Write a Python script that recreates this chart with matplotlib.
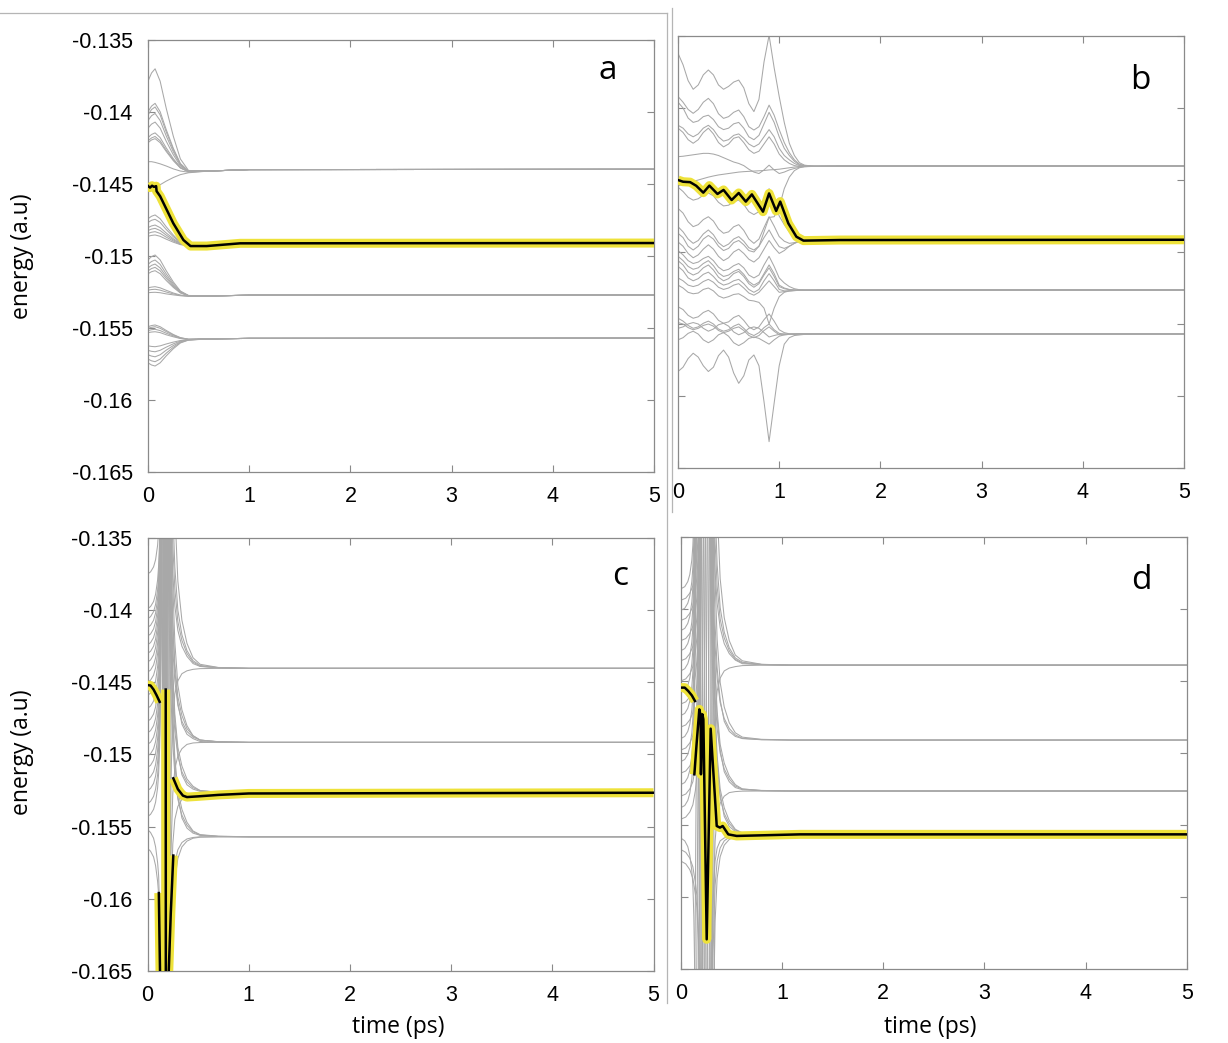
import matplotlib
matplotlib.use("Agg")
import matplotlib.pyplot as plt
from matplotlib.lines import Line2D

plt.rcParams["font.family"] = ["Liberation Sans", "DejaVu Sans"]

# energies are written in milli-hartree (1e-3 a.u.), time in ps

x_ticks = [0, 1, 2, 3, 4, 5]
y_ticks = [-0.165, -0.16, -0.155, -0.15, -0.145, -0.14, -0.135]
y_tick_labels = ["-0.165", "-0.16", "-0.155", "-0.15", "-0.145", "-0.14", "-0.135"]

# ---------------- panel a ----------------
a_t = [0, 0.035, 0.07, 0.12, 0.18, 0.25, 0.32, 0.40, 0.60, 1.00, 5.00]
a_lines = [
    [-137.86, -137.29, -137.00, -137.86, -139.74, -141.68, -143.26, -144.06, -144.10, -144.00, -143.98],
    [-139.98, -139.59, -139.40, -139.98, -141.22, -142.52, -143.58, -144.10, -144.10, -144.00, -143.98],
    [-140.20, -139.83, -139.65, -140.20, -141.38, -142.61, -143.61, -144.11, -144.10, -144.00, -143.98],
    [-140.59, -140.26, -140.10, -140.59, -141.66, -142.76, -143.67, -144.12, -144.10, -144.00, -143.98],
    [-141.12, -140.84, -140.70, -141.12, -142.03, -142.97, -143.74, -144.13, -144.10, -144.00, -143.98],
    [-141.78, -141.56, -141.45, -141.78, -142.49, -143.24, -143.84, -144.14, -144.10, -144.00, -143.98],
    [-142.00, -141.80, -141.70, -142.00, -142.65, -143.32, -143.87, -144.15, -144.10, -144.00, -143.98],
    [-142.13, -141.94, -141.85, -142.13, -142.74, -143.38, -143.89, -144.15, -144.10, -144.00, -143.98],
    [-143.45, -143.45, -143.50, -143.60, -143.75, -143.95, -144.10, -144.18, -144.10, -144.00, -143.98],
    [-145.30, -145.30, -145.25, -145.05, -144.80, -144.55, -144.35, -144.22, -144.10, -144.00, -143.98],
    [-147.41, -147.24, -147.15, -147.41, -147.97, -148.55, -149.03, -149.27, -149.30, -149.12, -149.10],
    [-147.67, -147.52, -147.45, -147.67, -148.16, -148.66, -149.07, -149.27, -149.30, -149.12, -149.10],
    [-148.03, -147.91, -147.85, -148.03, -148.40, -148.80, -149.12, -149.28, -149.30, -149.12, -149.10],
    [-148.23, -148.13, -148.08, -148.23, -148.55, -148.88, -149.15, -149.29, -149.30, -149.12, -149.10],
    [-148.43, -148.35, -148.31, -148.43, -148.69, -148.96, -149.18, -149.29, -149.30, -149.12, -149.10],
    [-148.63, -148.57, -148.54, -148.63, -148.83, -149.04, -149.21, -149.29, -149.30, -149.12, -149.10],
    [-145.30, -145.35, -145.40, -145.70, -146.60, -147.90, -148.80, -149.25, -149.30, -149.12, -149.10],
    [-150.27, -150.04, -149.93, -150.27, -151.02, -151.80, -152.43, -152.74, -152.78, -152.72, -152.71],
    [-150.58, -150.38, -150.28, -150.58, -151.24, -151.92, -152.47, -152.75, -152.78, -152.72, -152.71],
    [-150.83, -150.65, -150.56, -150.83, -151.41, -152.02, -152.51, -152.76, -152.78, -152.72, -152.71],
    [-151.03, -150.87, -150.79, -151.03, -151.55, -152.10, -152.54, -152.76, -152.78, -152.72, -152.71],
    [-151.23, -151.09, -151.02, -151.23, -151.70, -152.18, -152.57, -152.76, -152.78, -152.72, -152.71],
    [-152.21, -152.16, -152.13, -152.21, -152.38, -152.57, -152.71, -152.79, -152.78, -152.72, -152.71],
    [-152.37, -152.33, -152.31, -152.37, -152.50, -152.63, -152.74, -152.79, -152.78, -152.72, -152.71],
    [-152.55, -152.53, -152.52, -152.55, -152.63, -152.70, -152.76, -152.79, -152.78, -152.72, -152.71],
    [-154.91, -154.83, -154.79, -154.91, -155.17, -155.45, -155.67, -155.78, -155.76, -155.72, -155.71],
    [-155.02, -154.95, -154.91, -155.02, -155.25, -155.49, -155.68, -155.78, -155.76, -155.72, -155.71],
    [-155.18, -155.12, -155.09, -155.18, -155.36, -155.55, -155.71, -155.79, -155.76, -155.72, -155.71],
    [-155.32, -155.28, -155.26, -155.32, -155.47, -155.61, -155.73, -155.79, -155.76, -155.72, -155.71],
    [-156.24, -156.28, -156.30, -156.24, -156.11, -155.98, -155.87, -155.81, -155.76, -155.72, -155.71],
    [-156.55, -156.62, -156.65, -156.55, -156.33, -156.10, -155.91, -155.82, -155.76, -155.72, -155.71],
    [-156.86, -156.95, -157.00, -156.86, -156.54, -156.22, -155.96, -155.82, -155.76, -155.72, -155.71],
    [-157.16, -157.28, -157.34, -157.16, -156.75, -156.34, -156.00, -155.83, -155.76, -155.72, -155.71],
    [-157.42, -157.57, -157.64, -157.42, -156.94, -156.44, -156.04, -155.84, -155.76, -155.72, -155.71],
]
a_hl_t = [0, 0.02, 0.04, 0.06, 0.08, 0.085, 0.12, 0.25, 0.35, 0.42, 0.58, 0.91, 5.0]
a_hl_e = [-145.14, -145.25, -145.12, -145.20, -145.15, -145.50, -145.85, -147.73, -148.89,
          -149.31, -149.31, -149.12, -149.10]

# ---------------- panel b ----------------
b_t = [0, 0.05, 0.1, 0.15, 0.2, 0.25, 0.3, 0.35, 0.4, 0.45, 0.5, 0.55, 0.6, 0.65, 0.7,
       0.75, 0.8, 0.85, 0.9, 0.95, 1.0, 1.05, 1.1, 1.15, 1.2, 1.25, 1.35, 1.6, 5.0]
b_lines = [
    [-136.2, -137.0, -138.1, -138.7, -138.4, -137.7, -137.36, -137.7, -138.4, -138.7, -138.5, -138.2, -138.06, -138.6, -139.7,
     -140.25, -139.4, -136.8, -134.95, -137.2, -139.2, -141.0, -142.45, -143.3, -143.8, -143.97, -144.05, -144.04, -144.03],
    [-139.2, -139.6, -140.1, -140.37, -140.1, -139.6, -139.33, -139.7, -140.4, -140.72, -140.6, -140.3, -140.14, -140.6, -141.3,
     -141.53, -141.3, -140.6, -139.8, -140.5, -141.5, -142.4, -143.1, -143.6, -143.9, -144.0, -144.05, -144.04, -144.03],
    [-139.6, -140.0, -140.7, -141.0, -140.9, -140.6, -140.5, -140.8, -141.3, -141.5, -141.4, -141.1, -141.0, -141.4, -142.0,
     -142.2, -141.9, -141.1, -140.3, -141.0, -142.0, -142.8, -143.3, -143.7, -143.95, -144.0, -144.05, -144.04, -144.03],
    [-141.2, -141.4, -141.8, -142.0, -141.8, -141.4, -141.2, -141.5, -142.0, -142.3, -142.2, -141.9, -141.8, -142.1, -142.5,
     -142.7, -142.5, -142.0, -141.5, -142.0, -142.8, -143.3, -143.6, -143.85, -144.0, -144.05, -144.05, -144.04, -144.03],
    [-141.4, -141.7, -142.2, -142.45, -142.2, -141.7, -141.4, -141.8, -142.4, -142.7, -142.5, -142.1, -142.0, -142.4, -142.9,
     -143.15, -143.0, -142.5, -142.0, -142.5, -143.2, -143.6, -143.85, -144.0, -144.05, -144.05, -144.05, -144.04, -144.03],
    [-143.38, -143.35, -143.3, -143.25, -143.2, -143.15, -143.15, -143.2, -143.3, -143.45, -143.6, -143.75, -143.85, -144.0, -144.25,
     -144.45, -144.55, -144.3, -143.97, -144.3, -144.55, -144.45, -144.3, -144.2, -144.12, -144.08, -144.05, -144.04, -144.03],
    [-145.4, -145.3, -145.2, -145.1, -145.0, -144.9, -144.8, -144.72, -144.65, -144.6, -144.55, -144.5, -144.45, -144.42, -144.4,
     -144.38, -144.36, -144.34, -144.3, -144.28, -144.25, -144.2, -144.15, -144.1, -144.07, -144.05, -144.04, -144.04, -144.03],
    [-145.5, -145.8, -146.2, -146.4, -146.3, -146.05, -145.9, -146.1, -146.55, -146.8, -146.75, -146.5, -146.4, -146.7, -147.2,
     -147.4, -147.2, -146.5, -145.6, -146.4, -147.5, -148.1, -148.6, -148.9, -149.05, -149.15, -149.2, -149.18, -149.17],
    [-146.97, -147.3, -147.9, -148.24, -148.1, -147.75, -147.55, -147.85, -148.4, -148.7, -148.6, -148.25, -148.1, -148.5, -149.1,
     -149.4, -149.1, -148.3, -147.55, -148.2, -148.93, -149.25, -149.4, -149.35, -149.25, -149.2, -149.18, -149.17, -149.17],
    [-148.24, -148.6, -149.1, -149.4, -149.2, -148.75, -148.47, -148.8, -149.35, -149.63, -149.45, -149.1, -148.93, -149.25, -149.7,
     -149.86, -149.6, -149.0, -148.47, -149.1, -149.63, -149.75, -149.6, -149.4, -149.25, -149.2, -149.18, -149.17, -149.17],
    [-148.7, -149.0, -149.6, -149.86, -149.6, -149.1, -148.85, -149.1, -149.6, -149.9, -149.75, -149.35, -149.2, -149.5, -149.9,
     -150.0, -149.6, -148.6, -147.6, -147.55, -146.9, -145.6, -144.8, -144.35, -144.15, -144.07, -144.04, -144.04, -144.03],
    [-149.3, -149.6, -150.1, -150.4, -150.2, -149.8, -149.5, -149.8, -150.3, -150.6, -150.4, -150.0, -149.8, -150.1, -150.5,
     -150.7, -150.4, -149.8, -149.2, -149.7, -150.1, -149.9, -149.6, -149.4, -149.25, -149.2, -149.18, -149.17, -149.17],
    [-149.9, -150.2, -150.6, -150.8, -150.7, -150.45, -150.3, -150.6, -151.05, -151.3, -151.2, -150.95, -150.8, -151.1, -151.6,
     -151.8, -151.6, -150.9, -150.3, -151.0, -151.8, -152.15, -152.4, -152.55, -152.62, -152.65, -152.65, -152.64, -152.64],
    [-150.3, -150.6, -151.0, -151.2, -151.1, -150.8, -150.6, -150.95, -151.45, -151.7, -151.6, -151.35, -151.2, -151.55, -152.05,
     -152.3, -152.1, -151.5, -150.9, -151.5, -152.3, -152.5, -152.6, -152.63, -152.65, -152.65, -152.65, -152.64, -152.64],
    [-150.6, -150.9, -151.4, -151.6, -151.45, -151.1, -150.9, -151.25, -151.75, -152.0, -151.85, -151.5, -151.35, -151.7, -152.2,
     -152.45, -152.2, -151.6, -151.1, -151.7, -152.4, -152.55, -152.62, -152.64, -152.65, -152.65, -152.65, -152.64, -152.64],
    [-151.0, -151.3, -151.8, -152.0, -151.85, -151.55, -151.4, -151.7, -152.1, -152.3, -152.2, -152.0, -151.9, -152.2, -152.6,
     -152.8, -152.6, -152.0, -151.5, -152.0, -152.6, -152.7, -152.7, -152.68, -152.66, -152.65, -152.65, -152.64, -152.64],
    [-151.8, -152.0, -152.3, -152.4, -152.3, -152.05, -151.9, -152.1, -152.45, -152.6, -152.5, -152.3, -152.2, -152.5, -152.85,
     -153.0, -152.8, -152.4, -152.0, -152.4, -152.8, -152.75, -152.7, -152.68, -152.66, -152.65, -152.65, -152.64, -152.64],
    [-152.3, -152.5, -152.8, -152.9, -152.85, -152.6, -152.5, -152.7, -153.05, -153.2, -153.1, -152.95, -152.9, -153.1, -153.35,
     -153.4, -153.5, -153.9, -155.0, -153.9, -153.1, -152.8, -152.7, -152.67, -152.65, -152.65, -152.65, -152.64, -152.64],
    [-153.8, -154.0, -154.4, -154.6, -154.5, -154.2, -154.05, -154.3, -154.75, -154.95, -154.85, -154.55, -154.4, -154.75, -155.2,
     -155.4, -155.2, -154.7, -154.3, -154.8, -155.4, -155.6, -155.68, -155.7, -155.69, -155.69, -155.69, -155.69, -155.69],
    [-154.6, -154.8, -155.1, -155.3, -155.2, -154.95, -154.8, -155.0, -155.35, -155.5, -155.4, -155.15, -155.0, -155.3, -155.65,
     -155.8, -155.6, -155.25, -155.0, -155.4, -155.65, -155.7, -155.7, -155.7, -155.69, -155.69, -155.69, -155.69, -155.69],
    [-154.9, -155.0, -155.25, -155.4, -155.3, -155.1, -155.0, -155.15, -155.45, -155.6, -155.5, -155.3, -155.2, -155.45, -155.8,
     -155.95, -155.8, -155.45, -155.2, -155.5, -155.75, -155.75, -155.72, -155.7, -155.69, -155.69, -155.69, -155.69, -155.69],
    [-155.3, -155.2, -155.0, -154.9, -155.0, -155.3, -155.5, -155.35, -155.05, -154.95, -155.15, -155.55, -155.75, -155.6, -155.3,
     -155.2, -155.3, -155.6, -155.9, -155.8, -155.72, -155.7, -155.7, -155.7, -155.69, -155.69, -155.69, -155.69, -155.69],
    [-156.1, -155.95, -155.65, -155.5, -155.7, -156.1, -156.3, -156.1, -155.75, -155.6, -155.85, -156.3, -156.5, -156.3, -156.0,
     -155.9, -156.0, -156.2, -156.4, -156.1, -155.85, -155.75, -155.72, -155.7, -155.69, -155.69, -155.69, -155.69, -155.69],
    [-158.3, -158.0, -157.4, -157.03, -157.3, -157.9, -158.3, -158.0, -157.2, -156.81, -157.3, -158.4, -159.12, -158.6, -157.5,
     -157.15, -157.9, -160.4, -163.17, -160.5, -157.9, -156.4, -155.95, -155.8, -155.76, -155.72, -155.7, -155.69, -155.69],
]
b_hl_t = [0, 0.05, 0.12, 0.18, 0.25, 0.31, 0.39, 0.45, 0.53, 0.60, 0.67, 0.73, 0.84, 0.90, 0.97,
          1.01, 1.09, 1.17, 1.24, 1.6, 5.0]
b_hl_e = [-145.00, -145.12, -145.15, -145.40, -145.88, -145.39, -145.97, -145.69, -146.39, -145.90,
          -146.50, -146.00, -147.20, -145.93, -147.15, -146.50, -148.01, -148.94, -149.21, -149.17, -149.15]

# ---------------- panel c ----------------
c_left_t = [0, 0.03, 0.06, 0.08, 0.10, 0.11, 0.12, 0.13, 0.14, 0.15]
c_left = [
    [-137.5, -137.35, -137.0, -136.5, -135.5, -134.5, -132.7, -129.0, -119.5, -102.5],
    [-139.9, -139.75, -139.4, -138.9, -137.9, -136.9, -135.1, -131.4, -121.9, -104.9],
    [-140.6, -140.45, -140.1, -139.6, -138.6, -137.6, -135.8, -132.1, -122.6, -105.6],
    [-141.2, -141.05, -140.7, -140.2, -139.2, -138.2, -136.4, -132.7, -123.2, -106.2],
    [-141.8, -141.65, -141.3, -140.8, -139.8, -138.8, -137.0, -133.3, -123.8, -106.8],
    [-142.4, -142.25, -141.9, -141.4, -140.4, -139.4, -137.6, -133.9, -124.4, -107.4],
    [-143.0, -142.85, -142.5, -142.0, -141.0, -140.0, -138.2, -134.5, -125.0, -108.0],
    [-143.6, -143.45, -143.1, -142.6, -141.6, -140.6, -138.8, -135.1, -125.6, -108.6],
    [-144.3, -144.15, -143.8, -143.3, -142.3, -141.3, -139.5, -135.8, -126.3, -109.3],
    [-145.0, -144.85, -144.5, -144.0, -143.0, -142.0, -140.2, -136.5, -127.0, -110.0],
    [-145.9, -145.75, -145.4, -144.9, -143.9, -142.9, -141.1, -137.4, -127.9, -110.9],
    [-146.8, -146.65, -146.3, -145.8, -144.8, -143.8, -142.0, -138.3, -128.8, -111.8],
    [-147.7, -147.55, -147.2, -146.7, -145.7, -144.7, -142.9, -139.2, -129.7, -112.7],
    [-148.5, -148.35, -148.0, -147.5, -146.5, -145.5, -143.7, -140.0, -130.5, -113.5],
    [-149.3, -149.15, -148.8, -148.3, -147.3, -146.3, -144.5, -140.8, -131.3, -114.3],
    [-150.1, -149.95, -149.6, -149.1, -148.1, -147.1, -145.3, -141.6, -132.1, -115.1],
    [-150.9, -150.75, -150.4, -149.9, -148.9, -147.9, -146.1, -142.4, -132.9, -115.9],
    [-151.7, -151.55, -151.2, -150.7, -149.7, -148.7, -146.9, -143.2, -133.7, -116.7],
    [-152.5, -152.35, -152.0, -151.5, -150.5, -149.5, -147.7, -144.0, -134.5, -117.5],
    [-153.4, -153.25, -152.9, -152.4, -151.4, -150.4, -148.6, -144.9, -135.4, -118.4],
    [-154.3, -154.15, -153.8, -153.3, -152.3, -151.3, -149.5, -145.8, -136.3, -119.3],
    [-155.2, -155.4, -155.8, -156.4, -157.5, -158.4, -160.7, -165.2, -175.2, -190.2],
    [-156.5, -156.7, -157.1, -157.7, -158.8, -159.7, -162.0, -166.5, -176.5, -191.5],
]
c_band_e = [-185.0, -160.0, -140.0, -115.0]
c_band_t = [
    [0.140, 0.145, 0.149, 0.154], [0.145, 0.150, 0.154, 0.159], [0.149, 0.153, 0.157, 0.161],
    [0.152, 0.156, 0.160, 0.164], [0.155, 0.159, 0.163, 0.167], [0.158, 0.162, 0.165, 0.169],
    [0.161, 0.165, 0.168, 0.172], [0.164, 0.167, 0.171, 0.174], [0.167, 0.170, 0.174, 0.177],
    [0.170, 0.173, 0.177, 0.180], [0.173, 0.176, 0.180, 0.183], [0.176, 0.180, 0.183, 0.187],
    [0.180, 0.184, 0.187, 0.191], [0.184, 0.188, 0.192, 0.196], [0.189, 0.193, 0.197, 0.201],
    [0.195, 0.199, 0.204, 0.208], [0.202, 0.207, 0.212, 0.217], [0.211, 0.216, 0.222, 0.227],
    [0.222, 0.228, 0.234, 0.240],
]
c_right_t = [0.19, 0.21, 0.23, 0.25, 0.27, 0.30, 0.34, 0.39, 0.45, 0.52, 0.7, 1.0, 5.0]
c_right = [
    [-114.0, -128.0, -134.0, -137.5, -139.7, -141.4, -142.5, -143.2, -143.7, -143.9, -144.0, -144.03, -144.03],
    [-104.0, -122.0, -131.0, -135.5, -138.5, -140.8, -142.1, -143.0, -143.6, -143.88, -143.99, -144.03, -144.03],
    [-94.0, -114.0, -126.0, -133.0, -137.0, -140.0, -141.7, -142.8, -143.5, -143.83, -143.98, -144.03, -144.03],
    [-64.0, -94.0, -114.0, -126.0, -133.0, -138.0, -140.7, -142.3, -143.3, -143.75, -143.97, -144.03, -144.03],
    [-109.2, -124.2, -135.2, -141.2, -144.2, -146.4, -147.9, -148.6, -148.9, -149.1, -149.14, -149.16, -149.16],
    [-119.2, -133.2, -139.2, -142.7, -144.9, -146.6, -147.7, -148.4, -148.8, -149.0, -149.13, -149.16, -149.16],
    [-99.2, -119.2, -131.2, -138.2, -142.2, -145.2, -146.9, -148.0, -148.7, -149.0, -149.11, -149.16, -149.16],
    [-109.2, -127.2, -136.2, -140.7, -143.7, -146.0, -147.3, -148.2, -148.7, -149.0, -149.12, -149.16, -149.16],
    [-112.7, -127.7, -138.7, -144.7, -147.7, -149.9, -151.4, -152.1, -152.4, -152.55, -152.63, -152.65, -152.65],
    [-122.7, -136.7, -142.7, -146.2, -148.4, -150.1, -151.2, -151.9, -152.3, -152.5, -152.62, -152.65, -152.65],
    [-112.7, -130.7, -139.7, -144.2, -147.2, -149.5, -150.8, -151.7, -152.2, -152.5, -152.61, -152.65, -152.65],
    [-115.7, -130.7, -141.7, -147.7, -150.7, -152.9, -154.4, -155.1, -155.45, -155.6, -155.68, -155.7, -155.7],
    [-125.7, -139.7, -145.7, -149.2, -151.4, -153.1, -154.2, -154.9, -155.35, -155.58, -155.67, -155.7, -155.7],
    [-115.7, -133.7, -142.7, -147.2, -150.2, -152.5, -153.8, -154.7, -155.3, -155.55, -155.66, -155.7, -155.7],
    [-184.0, -164.0, -152.0, -147.5, -145.8, -144.9, -144.4, -144.2, -144.1, -144.05, -144.03, -144.03, -144.03],
    [-189.2, -169.2, -157.2, -152.7, -151.0, -150.1, -149.6, -149.3, -149.2, -149.17, -149.16, -149.16, -149.16],
    [-192.7, -172.7, -160.7, -156.2, -154.5, -153.6, -153.1, -152.8, -152.7, -152.66, -152.65, -152.65, -152.65],
    [-195.7, -175.7, -163.7, -159.2, -157.5, -156.6, -156.1, -155.85, -155.75, -155.7, -155.7, -155.7, -155.7],
    [-215.7, -185.7, -169.7, -161.7, -158.7, -157.2, -156.4, -156.0, -155.8, -155.73, -155.7, -155.7, -155.7],
]
c_hl_t = [
    [0, 0.03, 0.06, 0.09, 0.12],
    [0.112, 0.118, 0.126],
    [0.180, 0.181],
    [0.205, 0.230, 0.255],
    [0.255, 0.30, 0.35, 0.39, 0.5, 0.7, 1.0, 5.0],
]
c_hl_e = [
    [-145.19, -145.22, -145.5, -145.9, -146.35],
    [-159.6, -162.5, -166.0],
    [-145.5, -166.0],
    [-166.0, -161.0, -157.0],
    [-151.65, -152.4, -152.85, -152.95, -152.9, -152.8, -152.7, -152.65],
]

# ---------------- panel d ----------------
d_left_t_early = [0, 0.04, 0.07, 0.09, 0.11, 0.12, 0.13, 0.14, 0.15, 0.16]
d_left_t_late = [0, 0.05, 0.09, 0.12, 0.145, 0.16, 0.175, 0.19, 0.20, 0.21]
d_left_early = [
    [-138.6, -138.45, -138.1, -137.6, -136.6, -135.6, -133.8, -130.1, -120.6, -103.6],
    [-140.1, -139.95, -139.6, -139.1, -138.1, -137.1, -135.3, -131.6, -122.1, -105.1],
    [-141.5, -141.35, -141.0, -140.5, -139.5, -138.5, -136.7, -133.0, -123.5, -106.5],
    [-142.9, -142.75, -142.4, -141.9, -140.9, -139.9, -138.1, -134.4, -124.9, -107.9],
    [-144.3, -144.15, -143.8, -143.3, -142.3, -141.3, -139.5, -135.8, -126.3, -109.3],
    [-145.8, -145.65, -145.3, -144.8, -143.8, -142.8, -141.0, -137.3, -127.8, -110.8],
    [-147.4, -147.25, -146.9, -146.4, -145.4, -144.4, -142.6, -138.9, -129.4, -112.4],
    [-149.0, -148.85, -148.5, -148.0, -147.0, -146.0, -144.2, -140.5, -131.0, -114.0],
    [-150.6, -150.45, -150.1, -149.6, -148.6, -147.6, -145.8, -142.1, -132.6, -115.6],
    [-152.2, -152.05, -151.7, -151.2, -150.2, -149.2, -147.4, -143.7, -134.2, -117.2],
    [-153.8, -153.65, -153.3, -152.8, -151.8, -150.8, -149.0, -145.3, -135.8, -118.8],
    [-155.9, -156.1, -156.5, -157.1, -158.2, -159.1, -161.4, -165.9, -175.9, -190.9],
]
d_left_late = [
    [-139.4, -139.25, -138.9, -138.4, -137.4, -136.4, -134.6, -130.9, -121.4, -104.4],
    [-140.8, -140.65, -140.3, -139.8, -138.8, -137.8, -136.0, -132.3, -122.8, -105.8],
    [-142.2, -142.05, -141.7, -141.2, -140.2, -139.2, -137.4, -133.7, -124.2, -107.2],
    [-143.6, -143.45, -143.1, -142.6, -141.6, -140.6, -138.8, -135.1, -125.6, -108.6],
    [-145.0, -144.85, -144.5, -144.0, -143.0, -142.0, -140.2, -136.5, -127.0, -110.0],
    [-146.6, -146.45, -146.1, -145.6, -144.6, -143.6, -141.8, -138.1, -128.6, -111.6],
    [-148.2, -148.05, -147.7, -147.2, -146.2, -145.2, -143.4, -139.7, -130.2, -113.2],
    [-149.8, -149.65, -149.3, -148.8, -147.8, -146.8, -145.0, -141.3, -131.8, -114.8],
    [-151.4, -151.25, -150.9, -150.4, -149.4, -148.4, -146.6, -142.9, -133.4, -116.4],
    [-153.0, -152.85, -152.5, -152.0, -151.0, -150.0, -148.2, -144.5, -135.0, -118.0],
    [-154.6, -154.45, -154.1, -153.6, -152.6, -151.6, -149.8, -146.1, -136.6, -119.6],
    [-156.7, -156.9, -157.3, -157.9, -159.0, -159.9, -162.2, -166.7, -176.7, -191.7],
    [-157.5, -157.7, -158.1, -158.7, -159.8, -160.7, -163.0, -167.5, -177.5, -192.5],
]
d_band_e_up = [-175.0, -155.0, -142.0, -125.0]
d_band_e_down = [-125.0, -142.0, -155.0, -175.0]
d_band_up_t = [
    [0.130, 0.150, 0.165, 0.185], [0.150, 0.168, 0.182, 0.200], [0.170, 0.186, 0.199, 0.215],
    [0.190, 0.205, 0.217, 0.232], [0.210, 0.224, 0.236, 0.250], [0.232, 0.245, 0.256, 0.270],
    [0.255, 0.268, 0.279, 0.292], [0.280, 0.292, 0.302, 0.315], [0.300, 0.312, 0.322, 0.334],
]
d_band_down_t = [
    [0.145, 0.165, 0.180, 0.200], [0.165, 0.182, 0.196, 0.213], [0.180, 0.196, 0.209, 0.225],
    [0.198, 0.213, 0.225, 0.240], [0.218, 0.232, 0.243, 0.257], [0.238, 0.251, 0.262, 0.275],
    [0.262, 0.274, 0.284, 0.297], [0.285, 0.297, 0.307, 0.320], [0.305, 0.317, 0.327, 0.340],
]
d_right_t = [0.28, 0.30, 0.32, 0.34, 0.36, 0.39, 0.43, 0.48, 0.54, 0.61, 0.8, 1.1, 5.0]
d_right = [
    [-113.9, -127.9, -133.9, -137.4, -139.6, -141.3, -142.4, -143.1, -143.55, -143.8, -143.87, -143.9, -143.9],
    [-103.9, -121.9, -130.9, -135.4, -138.4, -140.7, -142.0, -142.9, -143.5, -143.75, -143.86, -143.9, -143.9],
    [-93.9, -113.9, -125.9, -132.9, -136.9, -139.9, -141.6, -142.7, -143.4, -143.7, -143.85, -143.9, -143.9],
    [-63.9, -93.9, -113.9, -125.9, -132.9, -137.9, -140.6, -142.2, -143.2, -143.6, -143.84, -143.9, -143.9],
    [-109.1, -124.1, -135.1, -141.1, -144.1, -146.3, -147.8, -148.5, -148.85, -149.0, -149.08, -149.1, -149.1],
    [-119.1, -133.1, -139.1, -142.6, -144.8, -146.5, -147.6, -148.3, -148.75, -148.98, -149.07, -149.1, -149.1],
    [-99.1, -119.1, -131.1, -138.1, -142.1, -145.1, -146.8, -147.9, -148.6, -148.9, -149.05, -149.1, -149.1],
    [-112.6, -127.6, -138.6, -144.6, -147.6, -149.8, -151.3, -152.0, -152.4, -152.55, -152.62, -152.64, -152.64],
    [-122.6, -136.6, -142.6, -146.1, -148.3, -150.0, -151.1, -151.8, -152.3, -152.5, -152.61, -152.64, -152.64],
    [-112.6, -130.6, -139.6, -144.1, -147.1, -149.4, -150.7, -151.6, -152.2, -152.5, -152.6, -152.64, -152.64],
    [-115.7, -130.7, -141.7, -147.7, -150.7, -152.9, -154.4, -155.1, -155.45, -155.6, -155.68, -155.7, -155.7],
    [-125.7, -139.7, -145.7, -149.2, -151.4, -153.1, -154.2, -154.9, -155.35, -155.58, -155.67, -155.7, -155.7],
    [-115.7, -133.7, -142.7, -147.2, -150.2, -152.5, -153.8, -154.7, -155.3, -155.55, -155.66, -155.7, -155.7],
    [-183.9, -163.9, -151.9, -147.4, -145.7, -144.8, -144.3, -144.1, -144.0, -143.93, -143.9, -143.9, -143.9],
    [-192.6, -172.6, -160.6, -156.1, -154.4, -153.5, -153.0, -152.75, -152.68, -152.65, -152.64, -152.64, -152.64],
    [-180.0, -168.0, -160.0, -157.5, -156.6, -156.1, -155.9, -155.8, -155.75, -155.72, -155.7, -155.7, -155.7],
    [-195.7, -175.7, -163.7, -159.2, -157.5, -156.6, -156.1, -155.85, -155.75, -155.7, -155.7, -155.7, -155.7],
    [-215.7, -185.7, -169.7, -161.7, -158.7, -157.2, -156.4, -156.0, -155.8, -155.73, -155.7, -155.7, -155.7],
]
d_hl_t = [
    [0, 0.04, 0.075, 0.11, 0.141],
    [0.135, 0.158, 0.184, 0.197, 0.200, 0.214, 0.224, 0.257, 0.296, 0.356, 0.388, 0.415, 0.47, 0.553, 1.18, 5.0],
]
d_hl_e = [
    [-145.46, -145.46, -145.7, -146.0, -146.39],
    [-151.48, -149.28, -146.97, -147.43, -151.48, -147.31, -147.66, -162.94, -148.31, -155.07, -155.18,
     -155.07, -155.65, -155.76, -155.65, -155.65],
]

# ---------------- drawing ----------------
GRAY = "#a8a8a8"
YEL = "#eee23a"
FRAME = "#8a8a8a"
W, H = 1228, 1043


def to_au(vals):
    return [v / 1000.0 for v in vals]


def gray(ax, t, e):
    ax.plot(t, to_au(e), color=GRAY, lw=0.75, zorder=2)


def highlight(ax, t, e):
    y = to_au(e)
    ax.plot(t, y, color=YEL, lw=6.5, solid_capstyle="butt", solid_joinstyle="round", zorder=3)
    ax.plot(t, y, color="black", lw=1.8, solid_joinstyle="round", zorder=4)


def panel(x0, y0, x1, y1, ylabels, letter, lx, ly):
    ax = fig.add_axes([x0 / W, 1 - y1 / H, (x1 - x0) / W, (y1 - y0) / H])
    ax.set_xlim(0, 5)
    ax.set_ylim(-0.165, -0.135)
    ax.set_xticks(x_ticks)
    ax.set_xticklabels([str(v) for v in x_ticks])
    ax.set_yticks(y_ticks)
    ax.set_yticklabels(y_tick_labels if ylabels else [])
    ax.tick_params(direction="in", top=True, right=True, length=5, width=0.8,
                   color=FRAME, labelsize=15.5)
    ax.tick_params(axis="x", pad=10)
    ax.tick_params(axis="y", pad=11)
    for s in ax.spines.values():
        s.set_color(FRAME)
        s.set_linewidth(0.9)
    ax.text(lx, ly, letter, transform=ax.transAxes, fontsize=24, family="Open Sans",
            ha="center", va="center")
    return ax


fig = plt.figure(figsize=(W / 100, H / 100), dpi=100)

ax_a = panel(148, 40, 654, 472, True, "a", 0.909, 0.93)
for e in a_lines:
    gray(ax_a, a_t, e)
highlight(ax_a, a_hl_t, a_hl_e)

ax_b = panel(678, 36, 1184, 468, False, "b", 0.913, 0.898)
for e in b_lines:
    gray(ax_b, b_t, e)
highlight(ax_b, b_hl_t, b_hl_e)

ax_c = panel(147.5, 538, 653.5, 971, True, "c", 0.934, 0.91)
for e in c_left:
    gray(ax_c, c_left_t, e)
for t in c_band_t:
    gray(ax_c, t, c_band_e)
for e in c_right:
    gray(ax_c, c_right_t, e)
for t, e in zip(c_hl_t, c_hl_e):
    highlight(ax_c, t, e)

ax_d = panel(680.7, 537, 1186.7, 969, False, "d", 0.91, 0.9)
for e in d_left_early:
    gray(ax_d, d_left_t_early, e)
for e in d_left_late:
    gray(ax_d, d_left_t_late, e)
for t in d_band_up_t:
    gray(ax_d, t, d_band_e_up)
for t in d_band_down_t:
    gray(ax_d, t, d_band_e_down)
for e in d_right:
    gray(ax_d, d_right_t, e)
for t, e in zip(d_hl_t, d_hl_e):
    highlight(ax_d, t, e)

# axis titles
fig.text(22 / W, 1 - 256 / H, "energy (a.u)", rotation=90, ha="center", va="center",
         fontsize=16.5, family="Open Sans")
fig.text(22 / W, 1 - 752 / H, "energy (a.u)", rotation=90, ha="center", va="center",
         fontsize=16.5, family="Open Sans")
fig.text(398 / W, 1 - 1027 / H, "time (ps)", ha="center", va="center", fontsize=16.5, family="Open Sans")
fig.text(930 / W, 1 - 1027 / H, "time (ps)", ha="center", va="center", fontsize=16.5, family="Open Sans")

# thin frame lines left over from the panel montage
for xs, ys in [([0, 667], [13, 13]), ([667, 667], [13, 1003]), ([672, 672], [8, 512])]:
    fig.add_artist(Line2D([x / W for x in xs], [1 - y / H for y in ys], color="#b5b5b5", lw=0.9))

fig.savefig("out.png", dpi=100)
